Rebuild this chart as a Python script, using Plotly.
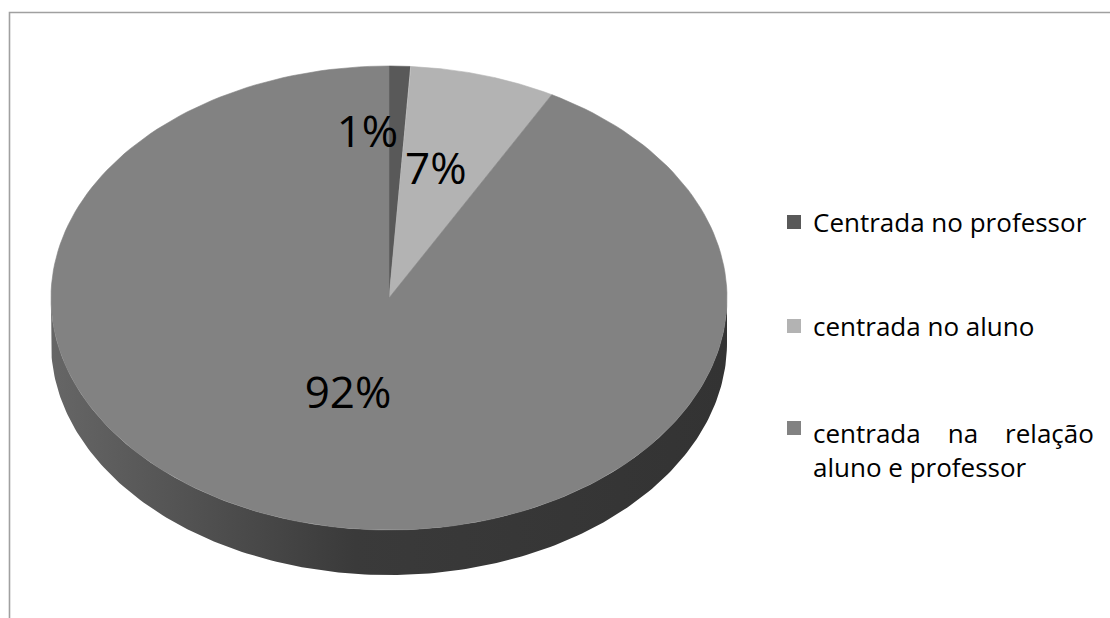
import numpy as np
import plotly.graph_objects as go

# ---- data ----
categories = ["Centrada no professor", "centrada no aluno", "centrada na relação aluno e professor"]
values = [1, 7, 92]
pct_labels = ["1%", "7%", "92%"]

# ---- styles / layout constants ----
W, H = 1110, 618
top_colors = ["#595959", "#b3b3b3", "#828282"]
cx, cy, rx, ry, depth = 389, 298, 338, 232, 45
label_r = [0.70, 0.56, 0.44]
label_dx = [-29, -6, -4]
FONT = "Open Sans, Noto Sans, sans-serif"

fracs = np.array(values, dtype=float) / np.sum(values)
ends = np.cumsum(fracs) * 360.0
starts = ends - fracs * 360.0


def arc(t0, t1, n=200):
    t = np.radians(np.linspace(t0, t1, n))
    return cx + rx * np.sin(t), cy - ry * np.cos(t)


fig = go.Figure()

# side walls (front half only: 90..270 deg, clockwise from top)
for i in range(len(values)):
    a, b = max(starts[i], 90.0), min(ends[i], 270.0)
    if b <= a:
        continue
    xs, ys = arc(a, b)
    px = np.concatenate([xs, xs[::-1]])
    py = np.concatenate([ys, ys[::-1] + depth])
    fig.add_trace(go.Scatter(
        x=px, y=py, mode="lines", fill="toself",
        line=dict(width=0, color="#333333"),
        fillgradient=dict(type="horizontal",
                          colorscale=[[0, "#666666"], [0.45, "#3a3a3a"], [1, "#333333"]]),
        hoverinfo="skip", showlegend=False))

# top faces
for i in range(len(values)):
    xs, ys = arc(starts[i], ends[i])
    px = np.concatenate([[cx], xs, [cx]])
    py = np.concatenate([[cy], ys, [cy]])
    fig.add_trace(go.Scatter(
        x=px, y=py, mode="lines", fill="toself",
        fillcolor=top_colors[i], line=dict(width=0.6, color=top_colors[i]),
        hoverinfo="skip", showlegend=False, name=categories[i]))

# percentage labels
mids = np.radians((starts + ends) / 2)
lx = cx + rx * np.sin(mids) * np.array(label_r) + np.array(label_dx)
ly = cy - ry * np.cos(mids) * np.array(label_r)
fig.add_trace(go.Scatter(
    x=lx, y=ly, mode="text", text=pct_labels,
    textfont=dict(family=FONT, size=44, color="#000000"),
    textposition="middle center", hoverinfo="skip", showlegend=False))

# legend (manual)
NB = "\u00a0"
leg_text = [
    categories[0],
    categories[1],
    ("centrada" + NB * 4 + "na" + NB * 4 + "relação<br>aluno e professor"),
]
leg_y = [222, 326, 428]
fig.add_trace(go.Scatter(
    x=[794] * 3, y=leg_y, mode="markers",
    marker=dict(symbol="square", size=14, color=top_colors, line=dict(width=0)),
    hoverinfo="skip", showlegend=False))
for i in range(3):
    fig.add_annotation(x=811, y=leg_y[i], xref="x", yref="y",
                       text=leg_text[i], showarrow=False,
                       xanchor="left", yanchor="top" if i == 2 else "middle",
                       yshift=15 if i == 2 else 0,
                       align="left",
                       font=dict(family=FONT, size=26, color="#000000"))

# chart area border
fig.add_shape(type="rect", x0=9.5, y0=12.5, x1=1130, y1=640, xref="x", yref="y",
              line=dict(color="#a0a0a0", width=1.6), fillcolor="rgba(0,0,0,0)", layer="below")

fig.update_layout(
    width=W, height=H,
    margin=dict(l=0, r=0, t=0, b=0),
    paper_bgcolor="white", plot_bgcolor="white",
    xaxis=dict(range=[0, W], visible=False, fixedrange=True),
    yaxis=dict(range=[H, 0], visible=False, fixedrange=True),
    showlegend=False,
)

fig.write_html("out.html",
               config={"displayModeBar": False},
               post_script="document.body.style.margin='0';document.body.style.overflow='hidden';")
